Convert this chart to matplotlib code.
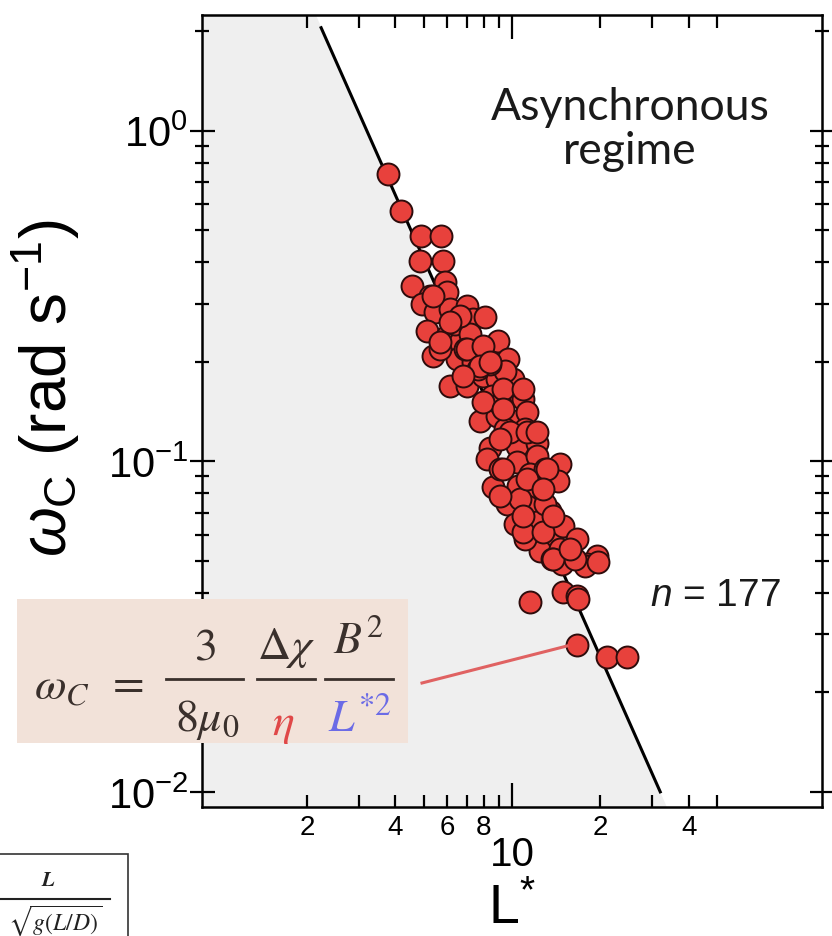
import numpy as np
import matplotlib
matplotlib.use("Agg")
import matplotlib.pyplot as plt
from matplotlib.ticker import FixedLocator, FixedFormatter
from matplotlib.patches import Rectangle, Polygon
from matplotlib.lines import Line2D

plt.rcParams['font.family'] = ['Liberation Sans', 'DejaVu Sans']
plt.rcParams['mathtext.fontset'] = 'custom'
plt.rcParams['mathtext.rm'] = 'Liberation Sans'
plt.rcParams['mathtext.it'] = 'Liberation Sans:italic'
plt.rcParams['mathtext.bf'] = 'Liberation Sans:bold'

# measured points: L* and critical frequency (rad/s)
L_star = [3.78, 4.18, 4.89, 5.72, 4.85, 5.81, 4.56, 5.91, 5.25, 6.00,
          4.93, 5.46, 6.14, 7.02, 7.36, 8.09, 5.13, 6.00, 6.65, 8.22,
          8.96, 5.38, 6.49, 7.36, 9.69, 6.14, 7.02, 7.96, 8.89, 10.08,
          8.55, 9.84, 10.9, 7.78, 8.89, 10.08, 11.25, 8.41, 10.4, 12.2,
          8.22, 10.4, 12.2, 14.6, 8.61, 10.5, 11.98, 14.35, 9.61, 11.25,
          13.5, 10.24, 12.2, 13.5, 14.9, 12.46, 14.6, 16.67, 19.5, 18.03,
          14.8, 11.5, 14.9, 16.67, 17.7, 19.7, 16.8, 16.67, 21.1, 24.7,
          6.39, 5.68, 7.19, 7.66, 9.46, 9.10, 9.46, 11.08, 9.10, 11.5,
          12.96, 10.65, 12.96, 11.08, 13.69, 16.4, 6.91, 8.41,
          5.38, 6.65, 6.14, 5.68, 7.02, 7.96, 7.78, 8.41, 6.80, 9.32,
          7.96, 9.32, 10.9, 9.84, 11.25, 9.10, 12.2, 9.32, 11.25, 13.17,
          9.10, 12.76, 10.9, 12.76, 13.8, 15.78, 10.9, 13.8]
omega_c = [0.740, 0.571, 0.480, 0.480, 0.403, 0.403, 0.339, 0.348, 0.316, 0.325,
           0.299, 0.283, 0.289, 0.295, 0.269, 0.273, 0.248, 0.239, 0.229, 0.2185,
           0.231, 0.208, 0.204, 0.1996, 0.204, 0.169, 0.169, 0.181, 0.177, 0.177,
           0.1575, 0.1575, 0.154, 0.132, 0.137, 0.132, 0.141, 0.110, 0.111, 0.114,
           0.1015, 0.0994, 0.1037, 0.098, 0.0835, 0.0841, 0.0785, 0.0871, 0.0742, 0.0732,
           0.0707, 0.0646, 0.0655, 0.0594, 0.0637, 0.0535, 0.0542, 0.0581, 0.0516, 0.0489,
           0.0489, 0.0375, 0.0402, 0.0391, 0.0482, 0.0495, 0.0383, 0.0278, 0.0256, 0.0256,
           0.260, 0.2185, 0.2426, 0.190, 0.1875, 0.149, 0.125, 0.125, 0.0947, 0.0915,
           0.0947, 0.0769, 0.0742, 0.0581, 0.0506, 0.0506, 0.2185, 0.197,
           0.316, 0.275, 0.264, 0.229, 0.2185, 0.223, 0.194, 0.1996, 0.181, 0.1654,
           0.151, 0.1438, 0.1654, 0.1225, 0.1225, 0.1167, 0.1225, 0.0947, 0.0884, 0.0947,
           0.0785, 0.0824, 0.0611, 0.0611, 0.0506, 0.0542, 0.0683, 0.0683]

# fitted line (slope -2) and the shaded boundary following it
fit_L = [2.23, 32.0]
fit_w = [2.05, 0.0100]
shade_L = [0.875, 2.14, 33.7, 0.875]
shade_w = [2.24, 2.24, 0.0090, 0.0090]

x_major = [10]
x_minor = [2, 3, 4, 5, 6, 7, 8, 9, 20, 30, 40, 50]
x_minor_labels = ['2', '', '4', '', '6', '', '8', '', '2', '', '4', '']
y_major = [0.01, 0.1, 1.0]
y_major_labels = [r'$10^{-2}$', r'$10^{-1}$', r'$10^{0}$']
y_minor = [0.02, 0.03, 0.04, 0.05, 0.06, 0.07, 0.08, 0.09,
           0.2, 0.3, 0.4, 0.5, 0.6, 0.7, 0.8, 0.9, 2.0]

W, H = 832, 937
fig = plt.figure(figsize=(W / 100, H / 100), dpi=100)
ax = fig.add_axes([202 / W, 1 - 808 / H, 620 / W, 792 / H])

def fx(x):
    return x / W

def fy(y):
    return 1 - y / H

ax.add_patch(Polygon(np.column_stack([shade_L, shade_w]), closed=True,
                     facecolor='#efefef', edgecolor='none', zorder=0))
ax.plot(fit_L, fit_w, color='black', lw=2.2, zorder=2)
ax.scatter(L_star, omega_c, s=250, facecolor='#e8413c', edgecolor='#2e0c0c',
           linewidth=1.4, zorder=3)

ax.set_xscale('log')
ax.set_yscale('log')
ax.set_xlim(0.875, 114)
ax.set_ylim(0.0090, 2.24)

ax.xaxis.set_major_locator(FixedLocator(x_major))
ax.xaxis.set_major_formatter(FixedFormatter(['10']))
ax.xaxis.set_minor_locator(FixedLocator(x_minor))
ax.xaxis.set_minor_formatter(FixedFormatter(x_minor_labels))
ax.yaxis.set_major_locator(FixedLocator(y_major))
ax.yaxis.set_major_formatter(FixedFormatter(y_major_labels))
ax.yaxis.set_minor_locator(FixedLocator(y_minor))
ax.yaxis.set_minor_formatter(FixedFormatter([''] * len(y_minor)))

ax.tick_params(axis='x', which='major', direction='in', top=True, length=17,
               width=1.6, labelsize=29, pad=20)
ax.tick_params(axis='x', which='minor', direction='in', top=True, length=9,
               width=1.6, labelsize=20, pad=5)
ax.tick_params(axis='y', which='major', direction='inout', right=True, length=18,
               width=1.6, labelsize=30, pad=1)
ax.tick_params(axis='y', which='minor', direction='inout', right=True, length=10,
               width=1.6)
for s in ax.spines.values():
    s.set_linewidth(1.8)

fig.text(fx(512), fy(910), r'L$^{*}$', ha='center', va='center', fontsize=40)
fig.text(fx(46), fy(388), r'$\omega_{\rm C}$ (rad s$^{-1}$)', ha='center',
         va='center', rotation=90, fontsize=46)

fig.text(fx(630), fy(107), 'Asynchronous', ha='center', va='center',
         fontsize=32, family='Lato', color='#1a1a1a')
fig.text(fx(630), fy(152), 'regime', ha='center', va='center',
         fontsize=32, family='Lato', color='#1a1a1a')
fig.text(fx(715), fy(596), r'$n$ = 177', ha='center', va='center',
         fontsize=28, color='#1a1a1a')

# formula box
fig.patches.append(Rectangle((fx(17), fy(744)), fx(391), 144 / H,
                             transform=fig.transFigure, facecolor='#f2e2d9',
                             edgecolor='none', zorder=5))
fig.lines.append(Line2D([fx(422), fx(567)], [fy(684), fy(647)],
                        transform=fig.transFigure, color='#e06262', lw=2.2, zorder=6))
ink = '#3a302c'
fs = 33
kw = dict(ha='center', va='center', fontsize=fs, color=ink, zorder=7,
          math_fontfamily='stix')
fig.text(fx(62), fy(687), r'$\omega_C$', **kw)
fig.text(fx(125), fy(683), r'$=$', **kw)
fig.text(fx(205), fy(648), r'$3$', **kw)
fig.text(fx(207), fy(720), r'$8\mu_0$', **kw)
fig.text(fx(286), fy(648), r'$\Delta\chi$', **kw)
fig.text(fx(358), fy(642), r'$B^2$', **kw)
kw_eta = dict(kw, color='#e04848')
fig.text(fx(283), fy(724), r'$\eta$', **kw_eta)
kw_L = dict(kw, color='#6b6be6')
fig.text(fx(360), fy(720), r'$L^{*2}$', **kw_L)
for x0, x1 in [(166, 243), (257, 315), (325, 393)]:
    fig.lines.append(Line2D([fx(x0), fx(x1)], [fy(680), fy(680)],
                            transform=fig.transFigure, color=ink, lw=2.0, zorder=7))

# cropped piece of a neighbouring panel at bottom left
fig.patches.append(Rectangle((fx(-20), fy(960)), fx(148), 105 / H,
                             transform=fig.transFigure, facecolor='white',
                             edgecolor='#333333', lw=1.2))
fig.text(fx(48), fy(881), r'$\boldsymbol{L}$', ha='center', va='center', fontsize=15,
         math_fontfamily='stix', color='#222222')
fig.lines.append(Line2D([fx(-5), fx(110)], [fy(900), fy(900)],
                        transform=fig.transFigure, color='#222222', lw=1.5))
fig.text(fx(55), fy(921), r'$\sqrt{g(L/D)}$', ha='center', va='center', fontsize=17,
         math_fontfamily='stix', color='#222222')

fig.savefig('out.png', dpi=100, facecolor='white')
